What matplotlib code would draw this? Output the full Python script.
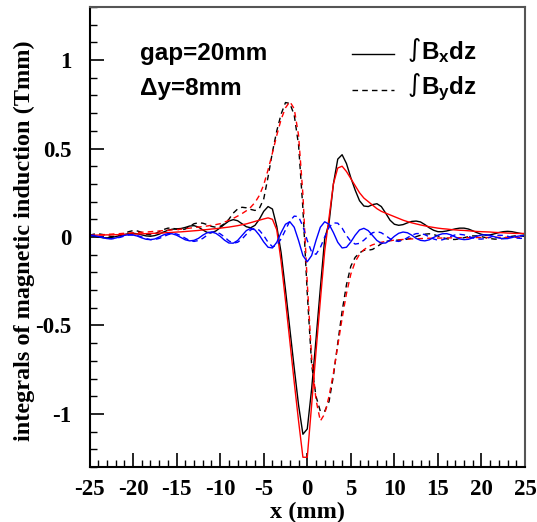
import numpy as np
import matplotlib
matplotlib.use("Agg")
import matplotlib.pyplot as plt
from matplotlib.ticker import MultipleLocator

# ---------------- data ----------------
x_mm = np.arange(-25, 25.01, 0.5)

bx_meas = [0.010, 0.005, 0.000, -0.004, -0.005, -0.003, 0.002, 0.008, 0.014, 0.019,
           0.021, 0.018, 0.012, 0.006, 0.004, 0.008, 0.016, 0.028, 0.038, 0.044,
           0.046, 0.048, 0.054, 0.062, 0.064, 0.056, 0.040, 0.026, 0.024, 0.034,
           0.052, 0.072, 0.090, 0.098, 0.092, 0.075, 0.058, 0.052, 0.066, 0.100,
           0.145, 0.172, 0.158, 0.060, -0.090, -0.300, -0.520, -0.740, -0.950, -1.115,
           -1.085, -0.860, -0.580, -0.290, -0.010, 0.080, 0.300, 0.440, 0.465, 0.415,
           0.335, 0.265, 0.205, 0.175, 0.172, 0.183, 0.188, 0.172, 0.135, 0.095,
           0.072, 0.066, 0.070, 0.080, 0.088, 0.090, 0.085, 0.070, 0.052, 0.038,
           0.030, 0.030, 0.034, 0.040, 0.046, 0.050, 0.050, 0.045, 0.035, 0.024,
           0.015, 0.010, 0.012, 0.018, 0.025, 0.030, 0.032, 0.030, 0.025, 0.020,
           0.016]

bx_sim = [0.010, 0.010, 0.011, 0.011, 0.012, 0.012, 0.013, 0.013, 0.014, 0.015,
          0.016, 0.017, 0.018, 0.019, 0.020, 0.021, 0.022, 0.023, 0.025, 0.026,
          0.028, 0.029, 0.031, 0.033, 0.035, 0.037, 0.040, 0.042, 0.045, 0.047,
          0.050, 0.053, 0.056, 0.060, 0.064, 0.069, 0.074, 0.081, 0.088, 0.095,
          0.102, 0.108, 0.100, 0.040, -0.140, -0.360, -0.590, -0.820, -1.040, -1.245,
          -1.245, -0.950, -0.650, -0.360, -0.080, 0.110, 0.300, 0.390, 0.400, 0.370,
          0.330, 0.290, 0.250, 0.220, 0.200, 0.180, 0.160, 0.145, 0.135, 0.125,
          0.115, 0.105, 0.095, 0.087, 0.080, 0.074, 0.068, 0.063, 0.058, 0.054,
          0.050, 0.047, 0.045, 0.042, 0.040, 0.038, 0.037, 0.035, 0.033, 0.031,
          0.030, 0.029, 0.028, 0.026, 0.025, 0.024, 0.022, 0.021, 0.020, 0.020,
          0.020]

by_meas = [0.010, 0.016, 0.018, 0.014, 0.008, 0.003, 0.003, 0.010, 0.020, 0.030,
           0.036, 0.034, 0.026, 0.016, 0.012, 0.018, 0.030, 0.042, 0.050, 0.050,
           0.044, 0.040, 0.045, 0.060, 0.075, 0.080, 0.078, 0.070, 0.060, 0.055,
           0.060, 0.075, 0.100, 0.135, 0.158, 0.168, 0.165, 0.156, 0.150, 0.162,
           0.215, 0.340, 0.480, 0.600, 0.695, 0.760, 0.755, 0.690, 0.520, 0.160,
           -0.320, -0.720, -0.900, -0.985, -0.985, -0.930, -0.785, -0.600, -0.420, -0.270,
           -0.165, -0.115, -0.090, -0.075, -0.075, -0.070, -0.055, -0.038, -0.026, -0.020,
           -0.018, -0.018, -0.016, -0.012, -0.006, 0.002, 0.010, 0.016, 0.018, 0.014,
           0.006, -0.003, -0.010, -0.014, -0.014, -0.010, -0.004, 0.002, 0.006, 0.006,
           0.002, -0.004, -0.009, -0.012, -0.012, -0.008, -0.002, 0.004, 0.007, 0.006,
           0.003]

by_sim = [0.008, 0.010, 0.012, 0.013, 0.015, 0.016, 0.018, 0.019, 0.021, 0.022,
          0.024, 0.025, 0.027, 0.028, 0.030, 0.032, 0.034, 0.036, 0.038, 0.040,
          0.042, 0.044, 0.047, 0.050, 0.053, 0.056, 0.059, 0.062, 0.066, 0.070,
          0.075, 0.084, 0.094, 0.105, 0.118, 0.132, 0.148, 0.168, 0.195, 0.235,
          0.295, 0.380, 0.475, 0.575, 0.665, 0.730, 0.765, 0.725, 0.575, 0.240,
          -0.260, -0.680, -0.920, -1.040, -1.000, -0.900, -0.770, -0.615, -0.460, -0.320,
          -0.210, -0.140, -0.098, -0.072, -0.055, -0.044, -0.036, -0.030, -0.025, -0.021,
          -0.018, -0.016, -0.014, -0.012, -0.011, -0.010, -0.009, -0.008, -0.007, -0.007,
          -0.006, -0.006, -0.005, -0.005, -0.005, -0.004, -0.004, -0.004, -0.003, -0.003,
          -0.003, -0.003, -0.003, -0.002, -0.002, -0.002, -0.002, -0.002, -0.002, -0.002,
          -0.002]

dbx = [0.008, 0.007, 0.003, -0.003, -0.009, -0.010, -0.006, 0.001, 0.009, 0.013,
       0.011, 0.005, -0.005, -0.013, -0.015, -0.011, 0.000, 0.012, 0.019, 0.018,
       0.010, -0.003, -0.016, -0.022, -0.019, -0.008, 0.010, 0.024, 0.028, 0.021,
       0.004, -0.018, -0.034, -0.035, -0.020, 0.008, 0.036, 0.049, 0.040, 0.010,
       -0.028, -0.058, -0.062, -0.030, 0.025, 0.072, 0.086, 0.055, -0.020, -0.105,
       -0.140,
       -0.105, -0.020, 0.055, 0.086, 0.072, 0.025, -0.030, -0.062, -0.058, -0.028,
       0.010, 0.040, 0.049, 0.036, 0.008, -0.020, -0.035, -0.034, -0.018, 0.004,
       0.021, 0.028, 0.024, 0.010, -0.008, -0.019, -0.022, -0.016, -0.003, 0.010,
       0.018, 0.019, 0.012, 0.000, -0.011, -0.015, -0.013, -0.005, 0.005, 0.011,
       0.013, 0.009, 0.001, -0.006, -0.010, -0.009, -0.003, 0.003, 0.007, 0.008]

dby = [0.010, 0.009, 0.004, -0.002, -0.008, -0.010, -0.008, -0.002, 0.005, 0.011,
       0.012, 0.008, 0.000, -0.009, -0.015, -0.014, -0.008, 0.002, 0.013, 0.020,
       0.017, 0.007, -0.007, -0.020, -0.025, -0.020, -0.008, 0.010, 0.027, 0.029,
       0.018, 0.000, -0.022, -0.035, -0.030, -0.012, 0.015, 0.040, 0.050, 0.038,
       0.008, -0.030, -0.055, -0.048, -0.010, 0.040, 0.090, 0.118, 0.115, 0.060,
       -0.020, -0.085, -0.098, -0.060, 0.000, 0.055, 0.080, 0.078, 0.050, 0.008,
       -0.025, -0.040, -0.036, -0.018, 0.005, 0.024, 0.030, 0.024, 0.008, -0.010,
       -0.022, -0.025, -0.018, -0.004, 0.010, 0.019, 0.020, 0.013, 0.001, -0.011,
       -0.018, -0.016, -0.008, 0.004, 0.012, 0.015, 0.012, 0.004, -0.005, -0.011,
       -0.012, -0.008, -0.001, 0.006, 0.010, 0.009, 0.004, -0.002, -0.006, -0.008,
       -0.006]

x_ticks = [-25, -20, -15, -10, -5, 0, 5, 10, 15, 20, 25]
y_ticks = [-1, -0.5, 0, 0.5, 1]
y_tick_labels = ["-1", "-0.5", "0", "0.5", "1"]

# ---------------- figure ----------------
plt.rcParams['mathtext.fontset'] = 'custom'
plt.rcParams['mathtext.rm'] = 'Liberation Sans:bold'
plt.rcParams['mathtext.bf'] = 'Liberation Sans:bold'
plt.rcParams['mathtext.it'] = 'Liberation Sans:bold'

fig = plt.figure(figsize=(5.37, 5.22), dpi=100)
ax = fig.add_axes([0.1667, 0.1054, 0.8110, 0.8812])

lw = 1.0
dash = (0, (4, 3))
ax.plot(x_mm, bx_meas, color='black', lw=lw)
ax.plot(x_mm, by_meas, color='black', lw=lw, linestyle=dash)
ax.plot(x_mm, bx_sim, color='#ff0000', lw=lw)
ax.plot(x_mm, by_sim, color='#ff0000', lw=lw, linestyle=dash)
ax.plot(x_mm, dbx, color='#0000ff', lw=lw)
ax.plot(x_mm, dby, color='#0000ff', lw=lw, linestyle=dash)

ax.set_xlim(-25, 25)
ax.set_ylim(-1.3, 1.3)

tick_font = dict(family='Liberation Serif', weight='bold', size=16.5)
label_font = dict(family='Liberation Serif', weight='bold', size=17.5)
ax.set_xticks(x_ticks)
ax.set_xticklabels([str(v) for v in x_ticks], fontdict=tick_font)
ax.set_yticks(y_ticks)
ax.set_yticklabels(y_tick_labels, fontdict=tick_font)
ax.xaxis.set_minor_locator(MultipleLocator(1))
ax.yaxis.set_minor_locator(MultipleLocator(0.1))
ax.tick_params(which='major', direction='in', length=10, width=1.2, pad=9,
               top=False, right=False)
ax.tick_params(which='minor', direction='in', length=5, width=1.0,
               top=False, right=False)
ax.tick_params(axis='y', which='major', pad=13)

for s in ['left', 'bottom']:
    ax.spines[s].set_linewidth(1.5)
    ax.spines[s].set_color('black')
for s in ['top', 'right']:
    ax.spines[s].set_linewidth(1.5)
    ax.spines[s].set_color('#555555')

ax.set_xlabel('x (mm)', fontdict=label_font)
ax.xaxis.set_label_coords(0.5, -0.076)
ax.xaxis.label.set_va('top')
ax.set_ylabel('integrals of magnetic induction (Tmm)', fontdict=label_font)
ax.yaxis.set_label_coords(-0.150, 0.493)
ax.yaxis.label.set_va('center')

# annotation text
sans_bold = dict(family='Liberation Sans', weight='bold', size=17.5)
ax.text(-19.2, 1.003, 'gap=20mm', fontdict=sans_bold, va='baseline', ha='left')
ax.text(-19.2, 0.805, '\u0394y=8mm', fontdict=sans_bold, va='baseline', ha='left')

# legend (hand placed)
ax.plot([5.1, 9.9], [1.037, 1.037], color='black', lw=lw, clip_on=False)
ax.plot([5.1, 9.9], [0.833, 0.833], color='black', lw=lw, linestyle=dash, clip_on=False)
ax.text(11.5, 1.018, r'$\int$', fontsize=13, va='baseline', ha='left',
        math_fontfamily='dejavusans')
ax.text(13.0, 1.003, r'$\mathbf{B_x dz}$', fontsize=17.5, va='baseline', ha='left')
ax.text(11.5, 0.820, r'$\int$', fontsize=13, va='baseline', ha='left',
        math_fontfamily='dejavusans')
ax.text(13.0, 0.805, r'$\mathbf{B_y dz}$', fontsize=17.5, va='baseline', ha='left')

fig.savefig('out.png', dpi=100)
